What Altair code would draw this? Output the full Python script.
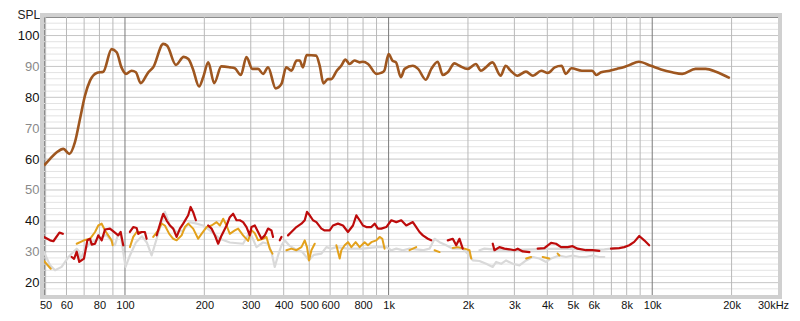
import altair as alt
import pandas as pd

W, H = 734, 278
FREQ_DOMAIN = [49.3, 30000]
DB_DOMAIN = [16, 106]

# Main SPL trace (Hz, dB)
spl = [(49.3, 57.9), (52, 60.1), (55.1, 62.2), (58.4, 63.3), (61.5, 61.7), (64.6, 65.5), (67.5, 73), (70.5, 80.5),
       (73.7, 85.4), (78.1, 87.9), (82.8, 88.3), (89, 95.6), (93, 94.6), (97, 89.7), (100.9, 87.6), (106, 88.6),
       (110, 88.1), (114.7, 84.6), (122.6, 88.1), (128, 89.7), (139.7, 97.3), (144.6, 96.7), (156, 90.5), (167, 93.1),
       (174, 92.4), (181, 89.2), (191, 83.5), (198, 86.5), (207, 91.3), (218, 84.6), (232, 90), (250, 89.7),
       (261, 89.4), (275, 87.2), (289, 93), (304, 89.2), (320, 89.2), (334, 87.6), (349, 89.7), (373, 82.9),
       (392, 84.3), (409, 89.7), (428, 88.6), (448, 91.9), (460, 91.9), (473, 89.7), (489, 93.7), (531, 93.5),
       (548, 90.2), (566, 84.5), (588, 85.9), (606, 85.9), (636, 88.6), (661, 90.2), (686, 92.2), (711, 90.8),
       (743, 91.9), (776, 91.3), (799, 91.5), (836, 90.8), (899, 87.6), (936, 87.9), (963, 88.6), (1000, 94),
       (1034, 91.9), (1067, 91.3), (1113, 86.5), (1150, 89.2), (1235, 90.2), (1294, 89.2), (1384, 85.7), (1452, 89.2),
       (1536, 91.5), (1605, 87.2), (1676, 88.1), (1778, 91), (1857, 90.2), (1995, 89.2), (2143, 90.8), (2240, 88.6),
       (2338, 89.7), (2477, 91.3), (2660, 87), (2780, 90.2), (2905, 88.6), (3080, 87), (3320, 88.3), (3530, 87),
       (3793, 88.6), (4020, 87.9), (4270, 89.7), (4530, 90.2), (4700, 87.6), (4940, 89.4), (5410, 88.6), (5920, 88.6),
       (6150, 87.2), (6400, 88.1), (6900, 88.6), (7330, 89.2), (7780, 89.7), (8210, 90.5), (8900, 91.5), (9880, 90.2),
       (10800, 89), (11900, 88.1), (13000, 87.6), (14600, 89.2), (15950, 89.2), (17450, 88.3), (19700, 86.2)]

red_segments = [
    [(49.3, 34.8), (52, 33.7), (53.5, 33.4), (56.4, 36.2), (58.1, 35.8)],
    [(62.8, 28.3), (64.1, 27.7), (65.6, 30), (67.1, 26.7), (69.9, 27.8), (72, 33.7), (73.7, 34.2), (74.8, 32.3),
     (77, 32.6), (79.2, 35.3), (81.6, 33.7), (84, 37.2), (87.7, 37.5), (91.6, 36.2), (94.3, 35.3), (96.3, 36.4),
     (98.5, 32.1)],
    [(104.4, 36.4), (107.5, 38), (110.7, 37.7), (112.3, 35.8), (115.7, 36.4), (119, 36.4), (120.8, 34.2)],
    [(131.9, 35.3), (137.7, 40.7), (139.7, 42.3), (143.9, 40.1), (148.1, 38.5), (152.4, 37.5), (157, 34.8),
     (161.6, 37.5), (166.3, 39.1), (173.7, 41.8), (177.4, 44.5), (181.4, 42.8), (185.8, 40.2)],
    [(206.8, 38.5), (213, 37.5), (219.3, 35.3), (225.7, 32.6), (232.5, 35.3), (242.9, 38.5), (249.8, 41.2),
     (257.2, 42.3), (264.9, 40.2), (272.7, 40.2), (280.6, 39.6), (289.1, 38), (297.5, 35.3), (301.9, 38),
     (310.8, 38.5), (319.9, 36.4), (329.5, 34.2), (339.1, 35.3), (349, 37.5), (359.5, 36.9), (364.5, 34.8)],
    [(386.5, 33.7), (392.3, 34.8)],
    [(415.4, 35.3), (427.8, 36.4), (447, 38), (467, 39.1), (480.7, 40.2), (490.4, 42.9), (502.1, 41.8),
     (516.8, 40.2), (532.3, 39.6), (556, 37.5), (572.3, 36.9), (597.7, 36.9), (615.2, 38.5), (642.7, 39.1),
     (671.4, 38.5), (701.3, 36.4), (732.6, 38.5), (754.5, 41.8), (776.5, 40.2), (799.2, 38.5), (823.2, 38),
     (860, 38), (885.1, 39.1), (911, 37.5), (938.4, 37.5), (980.2, 38), (1024, 40.2), (1070, 39.6), (1117, 40.2),
     (1167, 38.5), (1236, 39.6), (1273, 38), (1310, 36.4), (1349, 35.3), (1409, 34.2), (1451, 33.7)],
    [(1677, 33.7), (1752, 34.2), (1805, 32.1), (1857, 34.2), (1911, 31)],
    [(2484, 32.6), (2521, 30.5), (2633, 31.5), (2750, 31), (2873, 30.8), (3002, 30.5), (3089, 31), (3227, 30.1),
     (3421, 29.9)],
    [(3678, 31), (3898, 31.2), (4133, 32.9), (4317, 32.6), (4510, 31.5), (4777, 31.5), (4990, 31.8), (5212, 31),
     (5609, 30.5), (5941, 30.5), (6299, 30.3)],
    [(6976, 31), (7499, 31.2), (7832, 31.5), (8183, 32.1), (8547, 33.2), (8929, 35.1), (9326, 33.7), (9741, 32.1)],
]

orange_segments = [
    [(49.3, 27), (52.3, 24.5)],
    [(65.6, 32.6), (69.9, 33.7), (73.7, 34.2), (77, 36.4), (79.2, 38.5), (81.6, 39.1), (84, 36.9), (86.4, 35.3),
     (89, 33.7), (89.8, 32.1)],
    [(104.4, 31.5), (107.5, 34.8), (110.7, 36.4), (114, 36.4)],
    [(128, 34.8), (133.7, 36.9), (137.7, 39.1), (141.7, 38.5), (147.2, 35.8), (152.4, 34.2), (157, 33.7),
     (164, 35.3), (168.8, 38), (173.7, 39.1), (181.4, 37.5), (189.5, 34.2), (195.2, 35.8), (204, 38), (213, 38.5),
     (222.6, 39.6), (229.1, 38.5), (235.8, 40.7), (242.9, 38.5), (249.8, 35.8), (261, 36.9), (268.7, 37.5),
     (280.6, 35.3), (293.1, 33.5), (301.9, 37), (310.8, 36), (319.9, 33.7), (334.1, 34.2), (344.1, 34.8),
     (354.2, 31), (362.6, 29.4)],
    [(409.6, 30.5), (427.8, 31), (447, 30.5), (467, 31.5), (480.7, 33.7), (490.4, 31.5), (499.1, 27.2),
     (509.6, 30.5), (524.5, 32.6)],
    [(633.8, 32.1), (652.3, 27.8), (662, 30.5), (681.3, 32.1), (701.3, 33.1), (722.4, 31.5), (749.9, 33.1),
     (776.5, 31.5), (811.1, 33.1), (834.8, 32.1), (860, 33.1), (898.3, 33.7), (924.6, 34.8), (946.6, 34.2),
     (965.6, 31)],
    [(1201, 30.5), (1273, 31.5)],
    [(1494, 30.5), (1561, 29.9)],
    [(1752, 31.2), (1830, 31.5), (1941, 31), (2027, 30.5), (2058, 27.8)],
    [(3324, 27.8), (3472, 28.3)],
    [(3841, 28.3), (4072, 27.8)],
    [(4378, 29.4), (4444, 28.8)],
]

gray_segments = [
    [(49.3, 29.9), (52, 25.6), (54.3, 24), (57.5, 25.1), (61, 28.3), (63.7, 29.9), (65.6, 31), (67.1, 30),
     (67.5, 27), (70, 30.5), (74, 33), (79, 34), (85, 35.5), (91.6, 32.1), (94.3, 35.8), (96.3, 35.3),
     (100.5, 25.1), (104.4, 28.8), (110, 33), (116, 35), (121, 33), (126.2, 28.8), (131.9, 34.2), (137.7, 39.6),
     (141.7, 42.9), (148.1, 38.5), (157, 36.4), (166.3, 36.9), (176.3, 39.6), (186.9, 39.1), (198, 38.5),
     (209.9, 36.9), (229, 34.2), (249.8, 33), (280.6, 32.6), (297.5, 36.4), (315.4, 31.5), (334, 33),
     (349, 32.6), (359.5, 29.9), (370, 25.1), (380.8, 28.8), (392.3, 32.1), (403.6, 33.7), (420, 32), (440, 31),
     (470, 30), (499.1, 27.2), (520, 29), (556, 29.4), (580.8, 31.5), (606.7, 31), (633.8, 31.5), (700, 31),
     (800, 31), (900, 31.5), (980.2, 31.5), (1024, 30.5), (1070, 31), (1133, 30.5), (1201, 31), (1349, 30.5),
     (1430, 31), (1494, 34.2), (1561, 33.1), (1654, 32.1), (1752, 31), (1911, 31), (2027, 28.8), (2086, 27.2),
     (2212, 27), (2345, 26.1), (2484, 25.1), (2559, 26.7), (2672, 26.1), (2791, 27.2), (2957, 26.1),
     (3135, 25.6), (3324, 27.2), (3521, 28.3), (3733, 27.8), (3956, 26.7), (4133, 27.8), (4444, 28.8),
     (4711, 28.3), (4990, 28.8), (5291, 28.3), (5609, 28.3), (5941, 28.8), (6299, 28.3), (6580, 28.3)],
    [(2212, 30.5), (2310, 31), (2484, 30.8), (3000, 30.6), (3500, 30.8), (4500, 31), (5500, 30.8), (6000, 30.6),
     (6580, 30.8), (6976, 31), (7499, 31.2)],
]

x_ticks = [50, 60, 80, 100, 200, 300, 400, 500, 600, 800, 1000, 2000, 3000, 4000, 5000, 6000, 8000, 10000,
           20000, 30000]
x_tick_labels = ["50", "60", "80", "100", "200", "300", "400", "500", "600", "800", "1k", "2k", "3k", "4k",
                 "5k", "6k", "8k", "10k", "20k", "30kHz"]
y_ticks = [20, 30, 40, 50, 60, 70, 80, 90, 100]

x_grid_minor = [50, 60, 70, 80, 90, 200, 300, 400, 500, 600, 700, 800, 900, 2000, 3000, 4000, 5000, 6000,
                7000, 8000, 9000, 20000]
x_grid_major = [100, 1000, 10000]
y_grid_major = [20, 30, 40, 50, 60, 70, 80, 90, 100]
y_grid_minor = [18, 22, 24, 26, 28, 32, 34, 36, 38, 42, 44, 46, 48, 52, 54, 56, 58, 62, 64, 66, 68, 72, 74, 76,
                78, 82, 84, 86, 88, 92, 94, 96, 98, 102, 104]


def seg_frame(name, segments):
    rows = []
    for i, seg in enumerate(segments):
        for f, d in seg:
            rows.append({"f": f, "db": d, "seg": f"{name}{i}"})
    return pd.DataFrame(rows)


label_expr = " : ".join(f"datum.value == {v} ? '{t}'" for v, t in zip(x_ticks, x_tick_labels)) + " : ''"

xs = alt.Scale(type="log", domain=FREQ_DOMAIN, nice=False)
ys = alt.Scale(domain=DB_DOMAIN, nice=False, zero=False)
FONT = "Liberation Sans"

x_axis = alt.Axis(values=x_ticks, labelExpr=label_expr, grid=False, ticks=False, domain=False,
                  labelFont=FONT, labelFontSize=11, labelColor="#111111", labelPadding=4, title=None,
                  labelOverlap=False, labelFlush=False, labelBound=False,
                  labelOffset={"condition": {"test": "datum.value == 30000", "value": -5}, "value": 0})
y_axis = alt.Axis(values=y_ticks, grid=False, ticks=False, domain=False, labelFont=FONT, labelFontSize=13,
                  labelPadding=5,
                  labelColor={"condition": {"test": "datum.value % 20 == 0", "value": "#111111"},
                              "value": "#8a8a8a"},
                  title="SPL", titleAngle=0, titleX=-27, titleY=-3, titleAlign="left", titleBaseline="middle",
                  titleFontWeight="normal", titleFontSize=12, titleFont=FONT, titleColor="#222222")

frame = alt.Chart(pd.DataFrame({"a": [0]})).mark_rect(
    filled=False, stroke="#d0d0d0", strokeWidth=4, clip=False
).encode(x=alt.value(-2), x2=alt.value(W + 2), y=alt.value(-2), y2=alt.value(H + 2))

ygm = alt.Chart(pd.DataFrame({"v": y_grid_minor})).mark_rule(color="#e3e3e3", strokeWidth=1).encode(
    y=alt.Y("v:Q", scale=ys, axis=y_axis))
ygM = alt.Chart(pd.DataFrame({"v": y_grid_major})).mark_rule(color="#c6c6c6", strokeWidth=1).encode(
    y=alt.Y("v:Q", scale=ys, axis=y_axis))
xgm = alt.Chart(pd.DataFrame({"v": x_grid_minor})).mark_rule(color="#b9b9b9", strokeWidth=1).encode(
    x=alt.X("v:Q", scale=xs, axis=x_axis))
xgM = alt.Chart(pd.DataFrame({"v": x_grid_major})).mark_rule(color="#7a7a7a", strokeWidth=1).encode(
    x=alt.X("v:Q", scale=xs, axis=x_axis))


def line_layer(df, color, width, interp="linear"):
    return alt.Chart(df).mark_line(color=color, strokeWidth=width, clip=True, interpolate=interp,
                                   strokeJoin="round", strokeCap="round").encode(
        x=alt.X("f:Q", scale=xs, axis=x_axis),
        y=alt.Y("db:Q", scale=ys, axis=y_axis),
        detail="seg:N",
    )


gray = line_layer(seg_frame("g", gray_segments), "#d9d9d9", 2.2)
orange = line_layer(seg_frame("o", orange_segments), "#e3a11c", 2.0)
red = line_layer(seg_frame("r", red_segments), "#bd0b0b", 2.2)

spl_df = pd.DataFrame(spl, columns=["f", "db"])
brown = alt.Chart(spl_df).mark_line(color="#9e561f", strokeWidth=2.6, clip=True, interpolate="monotone").encode(
    x=alt.X("f:Q", scale=xs, axis=x_axis),
    y=alt.Y("db:Q", scale=ys, axis=y_axis),
)

chart = alt.layer(frame, ygm, ygM, xgm, xgM, gray, orange, red, brown).properties(
    width=W, height=H,
    padding={"left": 36, "top": 9, "right": 14, "bottom": 14},
    autosize="none",
    background="white",
).configure_view(stroke="#8c8c8c", strokeWidth=1)

chart.save("out.html", embed_options={"renderer": "svg", "actions": False})
